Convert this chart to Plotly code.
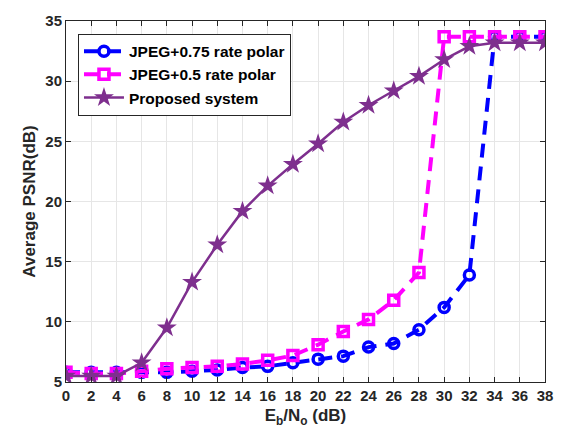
import plotly.graph_objects as go

ebno = list(range(0, 40, 2))
psnr_075 = [5.8, 5.8, 5.8, 5.8, 5.8, 5.9, 6.0, 6.2, 6.3, 6.6, 6.9, 7.15, 7.9, 8.2,
            9.35, 11.2, 13.9, 33.7, 33.7, 33.7]
psnr_05 = [5.8, 5.7, 5.7, 5.9, 6.1, 6.2, 6.3, 6.5, 6.8, 7.2, 8.1, 9.2, 10.2, 11.8,
           14.1, 33.7, 33.7, 33.7, 33.7, 33.7]
psnr_prop = [5.5, 5.5, 5.5, 6.6, 9.5, 13.3, 16.4, 19.2, 21.3, 23.1, 24.8, 26.6, 28.0,
             29.2, 30.4, 31.8, 32.9, 33.2, 33.2, 33.2]
y_ticks = [5, 10, 15, 20, 25, 30, 35]

font_family = "Liberation Sans, Arial, sans-serif"

fig = go.Figure()
fig.add_trace(go.Scatter(
    x=ebno, y=psnr_075, name="<b>JPEG+0.75 rate polar</b>", mode="lines+markers",
    line=dict(color="#0000FF", width=4, dash="14px,9px"),
    marker=dict(symbol="circle-open", size=10, color="#0000FF", line=dict(width=3.5)),
))
fig.add_trace(go.Scatter(
    x=ebno, y=psnr_05, name="<b>JPEG+0.5 rate polar</b>", mode="lines+markers",
    line=dict(color="#FF00FF", width=4, dash="14px,9px"),
    marker=dict(symbol="square-open", size=10, color="#FF00FF", line=dict(width=3.5)),
))
fig.add_trace(go.Scatter(
    x=ebno, y=psnr_prop, name="<b>Proposed system</b>", mode="lines+markers",
    line=dict(color="#7E2F8E", width=2.5),
    marker=dict(symbol="star", size=15, color="#7E2F8E"),
))

axis_common = dict(
    showline=True, linecolor="#262626", linewidth=1, mirror="ticks",
    ticks="inside", ticklen=5, tickcolor="#262626",
    showgrid=True, gridcolor="#E6E6E6", gridwidth=1, zeroline=False,
    tickfont=dict(family=font_family, size=15, color="#262626"),
)

fig.update_xaxes(
    range=[0, 38], tickvals=ebno, ticktext=[f"<b>{v}</b>" for v in ebno],
    title=dict(text="<b>E<sub>b</sub>/N<sub>o</sub> (dB)</b>",
               font=dict(family=font_family, size=17, color="#262626"), standoff=6),
    **axis_common,
)
fig.update_yaxes(
    range=[5, 35], tickvals=y_ticks,
    ticktext=[f"<b>{v}</b>" for v in y_ticks],
    title=dict(text="<b>Average PSNR(dB)</b>",
               font=dict(family=font_family, size=17, color="#262626"), standoff=5),
    **axis_common,
)

fig.update_layout(
    width=565, height=442,
    margin=dict(l=66, r=19, t=17, b=60),
    paper_bgcolor="white", plot_bgcolor="white",
    showlegend=True,
    legend=dict(
        x=0.025, y=0.965, xanchor="left", yanchor="top",
        bgcolor="white", bordercolor="#262626", borderwidth=1,
        font=dict(family=font_family, size=15.5, color="#000000"),
        itemwidth=40, tracegroupgap=0,
    ),
)

fig.write_html("out.html")
